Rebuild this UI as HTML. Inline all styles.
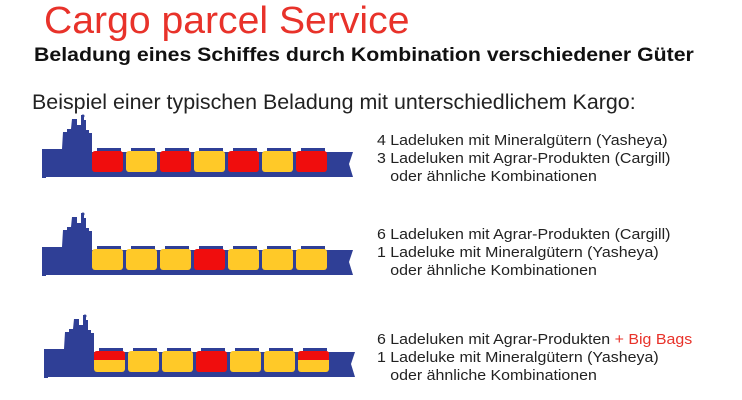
<!DOCTYPE html>
<html><head><meta charset="utf-8"><style>
body{margin:0;width:742px;height:400px;background:#fff;overflow:hidden;font-family:"Liberation Sans",sans-serif;position:relative}
.t{position:absolute;white-space:nowrap;transform-origin:0 0}
.r{font-size:14.5px;color:#222;line-height:18px;transform:scaleX(1.1)}
</style></head><body>
<div class="t" style="left:44px;top:0px;font-size:38px;color:#e8322a;transform:scaleX(1.03)">Cargo parcel Service</div>
<div class="t" style="left:34px;top:45px;font-size:19px;font-weight:bold;color:#111;transform:scaleX(1.12)">Beladung eines Schiffes durch Kombination verschiedener Güter</div>
<div class="t" style="left:32px;top:91px;font-size:21px;color:#222;transform:scaleX(1.02)">Beispiel einer typischen Beladung mit unterschiedlichem Kargo:</div>

<svg width="742" height="400" style="position:absolute;left:0;top:0">
<defs>
<g id="ship">
<path d="M42 0 L92 0 L92 -19 L89 -19 L89 -22 L86 -22 L86 -32 L84 -32 L84 -37 L81 -37 L81 -27 L77 -27 L77 -33 L72 -33 L71 -23 L67 -23 L67 -20 L63 -20 L62 -3 L42 -3 Z M42 0 L353 0 L349 12 L353 25 L42 25 Z" fill="#2f3f96"/>
<path d="M42 -3 L42 26 L46 26 L46 -3Z" fill="#2f3f96"/>
<circle cx="83" cy="-36" r="1.5" fill="#2f3f96"/>
</g>
</defs>
<g transform="translate(0,152)">
<use href="#ship"/>
<g id="caps1" fill="#2f3f96">
<rect x="97" y="-4" width="24" height="5"/><rect x="131" y="-4" width="24" height="5"/><rect x="165" y="-4" width="24" height="5"/><rect x="199" y="-4" width="24" height="5"/><rect x="233" y="-4" width="24" height="5"/><rect x="267" y="-4" width="24" height="5"/><rect x="301" y="-4" width="24" height="5"/>
</g>
<rect x="92" y="-1" width="31" height="21" rx="3" fill="#f00d0d"/>
<rect x="126" y="-1" width="31" height="21" rx="3" fill="#ffc928"/>
<rect x="160" y="-1" width="31" height="21" rx="3" fill="#f00d0d"/>
<rect x="194" y="-1" width="31" height="21" rx="3" fill="#ffc928"/>
<rect x="228" y="-1" width="31" height="21" rx="3" fill="#f00d0d"/>
<rect x="262" y="-1" width="31" height="21" rx="3" fill="#ffc928"/>
<rect x="296" y="-1" width="31" height="21" rx="3" fill="#f00d0d"/>
</g>
<g transform="translate(0,250)">
<use href="#ship"/>
<use href="#caps1"/>
<rect x="92" y="-1" width="31" height="21" rx="3" fill="#ffc928"/>
<rect x="126" y="-1" width="31" height="21" rx="3" fill="#ffc928"/>
<rect x="160" y="-1" width="31" height="21" rx="3" fill="#ffc928"/>
<rect x="194" y="-1" width="31" height="21" rx="3" fill="#f00d0d"/>
<rect x="228" y="-1" width="31" height="21" rx="3" fill="#ffc928"/>
<rect x="262" y="-1" width="31" height="21" rx="3" fill="#ffc928"/>
<rect x="296" y="-1" width="31" height="21" rx="3" fill="#ffc928"/>
</g>
<g transform="translate(2,352)">
<use href="#ship"/>
<use href="#caps1"/>
<rect x="92" y="-1" width="31" height="21" rx="3" fill="#ffc928"/>
<path d="M92 8 L92 2 Q92 -1 95 -1 L120 -1 Q123 -1 123 2 L123 8Z" fill="#f00d0d"/>
<rect x="126" y="-1" width="31" height="21" rx="3" fill="#ffc928"/>
<rect x="160" y="-1" width="31" height="21" rx="3" fill="#ffc928"/>
<rect x="194" y="-1" width="31" height="21" rx="3" fill="#f00d0d"/>
<rect x="228" y="-1" width="31" height="21" rx="3" fill="#ffc928"/>
<rect x="262" y="-1" width="31" height="21" rx="3" fill="#ffc928"/>
<rect x="296" y="-1" width="31" height="21" rx="3" fill="#ffc928"/>
<path d="M296 8 L296 2 Q296 -1 299 -1 L324 -1 Q327 -1 327 2 L327 8Z" fill="#f00d0d"/>
</g>
</svg>

<div class="t r" style="left:377px;top:132px">4 Ladeluken mit Mineralgütern (Yasheya)<br>3 Ladeluken mit Agrar-Produkten (Cargill)<br>&nbsp;&nbsp;&nbsp;oder ähnliche Kombinationen</div>
<div class="t r" style="left:377px;top:226px">6 Ladeluken mit Agrar-Produkten (Cargill)<br>1 Ladeluke mit Mineralgütern (Yasheya)<br>&nbsp;&nbsp;&nbsp;oder ähnliche Kombinationen</div>
<div class="t r" style="left:377px;top:331px">6 Ladeluken mit Agrar-Produkten <span style="color:#e8322a">+ Big Bags</span><br>1 Ladeluke mit Mineralgütern (Yasheya)<br>&nbsp;&nbsp;&nbsp;oder ähnliche Kombinationen</div>
</body></html>
